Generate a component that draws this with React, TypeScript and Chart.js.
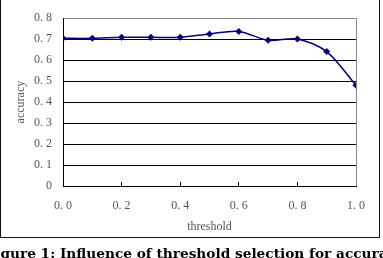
import React, { useEffect, useRef } from "react";
import { Chart, registerables } from "chart.js";

Chart.register(...registerables);

const thresholds = [0, 0.1, 0.2, 0.3, 0.4, 0.5, 0.6, 0.7, 0.8, 0.9, 1.0];
const accuracy = [0.704, 0.704, 0.709, 0.709, 0.709, 0.725, 0.737, 0.695, 0.701, 0.641, 0.48];
const xTicks = [0, 0.2, 0.4, 0.6, 0.8, 1.0];
const yTicks = [0, 0.1, 0.2, 0.3, 0.4, 0.5, 0.6, 0.7, 0.8];
const xTitle = "threshold";
const yTitle = "accuracy";
const caption = "Figure 1: Influence of threshold selection for accuracy";

const fmt = (v: number) => v.toFixed(1).replace(".", ". ");

export default function App() {
  const ref = useRef<HTMLCanvasElement | null>(null);
  useEffect(() => {
    if (!ref.current) return;
    const tickFont = { family: "'Liberation Serif', serif", size: 12 };
    const chart = new Chart(ref.current, {
      type: "line",
      data: {
        datasets: [
          {
            data: thresholds.map((t, i) => ({ x: t, y: accuracy[i] })),
            borderColor: "#000080",
            backgroundColor: "#000080",
            borderWidth: 1.5,
            pointStyle: "rectRot",
            pointRadius: 3.5,
            pointBorderWidth: 0,
            tension: 0.3,
          },
        ],
      },
      options: {
        animation: false,
        responsive: false,
        events: [],
        layout: { padding: { left: 1, top: 16, right: 27, bottom: 21 } },
        plugins: { legend: { display: false }, tooltip: { enabled: false } },
        scales: {
          x: {
            type: "linear",
            min: 0,
            max: 1,
            afterFit: (s: any) => {
              s.height = 51;
            },
            afterBuildTicks: (s: any) => {
              s.ticks = xTicks.map((v) => ({ value: v }));
            },
            ticks: {
              autoSkip: false,
              maxRotation: 0,
              padding: 17,
              color: "#555",
              font: tickFont,
              callback: (v: any) => fmt(Number(v)),
            },
            grid: {
              drawOnChartArea: true,
              drawTicks: true,
              tickLength: -4,
              color: (c: any) => (c.tick && c.tick.value === 1 ? "#888" : "rgba(0,0,0,0)"),
              tickColor: (c: any) =>
                c.tick && c.tick.value > 0 && c.tick.value < 1 ? "#000" : "rgba(0,0,0,0)",
              lineWidth: 1,
            },
            border: { color: "#000", width: 1 },
            title: {
              display: true,
              text: xTitle,
              color: "#555",
              font: { family: "'Liberation Serif', serif", size: 12 },
              padding: { top: 0, bottom: 3 },
            },
          },
          y: {
            type: "linear",
            min: 0,
            max: 0.8,
            afterFit: (s: any) => {
              s.width = 62;
            },
            afterBuildTicks: (s: any) => {
              s.ticks = yTicks.map((v) => ({ value: v }));
            },
            ticks: {
              padding: 11,
              color: "#555",
              font: tickFont,
              callback: (v: any) => (Number(v) === 0 ? "0" : fmt(Number(v))),
            },
            grid: {
              drawTicks: false,
              color: (c: any) => (c.tick && Math.abs(c.tick.value - 0.8) < 1e-6 ? "#888" : "#000"),
              lineWidth: 1,
            },
            border: { color: "#000", width: 1 },
            title: {
              display: true,
              text: yTitle,
              color: "#555",
              font: { family: "'Liberation Serif', serif", size: 12 },
              padding: { top: 13, bottom: 0 },
            },
          },
        },
      },
    });
    return () => chart.destroy();
  }, []);

  return (
    <div
      style={{
        position: "fixed",
        left: 0,
        top: 0,
        width: 383,
        height: 258,
        overflow: "hidden",
        background: "#fff",
      }}
    >
      <div
        style={{
          position: "absolute",
          left: 0,
          top: -2,
          width: 380,
          height: 240,
          boxSizing: "border-box",
          border: "1.5px solid #111",
        }}
      />
      <canvas
        ref={ref}
        width={383}
        height={258}
        style={{ position: "absolute", left: 0, top: 0, width: 383, height: 258 }}
      />
      <div
        style={{
          position: "absolute",
          left: -14.5,
          top: 244,
          whiteSpace: "nowrap",
          fontFamily: "'DejaVu Serif', serif",
          fontWeight: "bold",
          fontSize: 13.7,
          lineHeight: "18px",
          color: "#000",
        }}
      >
        {caption}
      </div>
    </div>
  );
}
